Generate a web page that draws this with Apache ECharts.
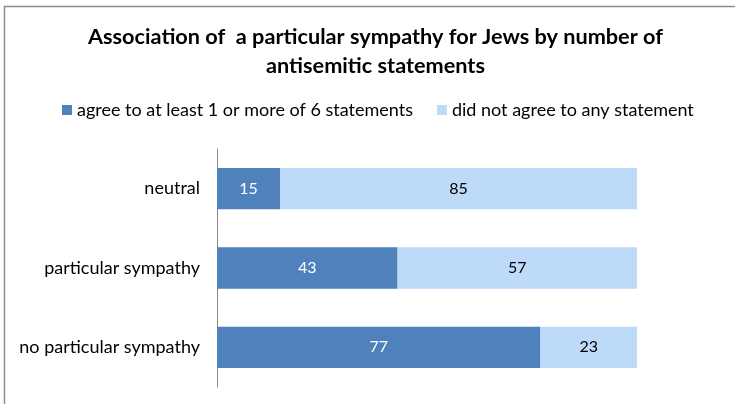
<!DOCTYPE html>
<html>
<head>
<meta charset="utf-8">
<script src="https://cdn.jsdelivr.net/npm/echarts@6/dist/echarts.min.js"></script>
<style>
  html, body { margin: 0; padding: 0; background: #fff; }
  #chart { width: 735px; height: 404px; }
</style>
</head>
<body>
<div id="chart"></div>
<script>
// Sympathy groups (top to bottom) and shares (%) by number of antisemitic statements agreed to
const categories = ['neutral', 'particular sympathy', 'no particular sympathy'];
const agreedValues = [15, 43, 77];
const notAgreedValues = [85, 57, 23];
const seriesNames = ['agree to at least 1 or more of 6 statements', 'did not agree to any statement'];

const FONT = 'Lato';
const chart = echarts.init(document.getElementById('chart'), null, { renderer: 'canvas' });

chart.setOption({
  backgroundColor: '#ffffff',
  animation: false,
  textStyle: { fontFamily: FONT },
  title: {
    text: 'Association of  a particular sympathy for Jews by number of\nantisemitic statements',
    left: 370.5,
    textAlign: 'center',
    top: 18,
    textStyle: { fontFamily: FONT, fontSize: 21.7, fontWeight: 'bold', color: '#000', lineHeight: 28.5 }
  },
  legend: {
    top: 96,
    left: 57,
    itemWidth: 10,
    itemHeight: 10,
    itemGap: 24,
    icon: 'rect',
    textStyle: { fontFamily: FONT, fontSize: 18, color: '#000' },
    data: seriesNames
  },
  grid: { left: 217, right: 98, top: 149, bottom: 17, containLabel: false },
  xAxis: {
    type: 'value', min: 0, max: 100, show: false
  },
  yAxis: {
    type: 'category',
    inverse: true,
    data: categories,
    axisLine: { show: true, lineStyle: { color: '#8c8c8c', width: 1 } },
    axisTick: { show: false },
    axisLabel: { fontFamily: FONT, fontSize: 18, color: '#000', margin: 17 }
  },
  series: [
    {
      name: seriesNames[0],
      type: 'bar',
      stack: 'total',
      barWidth: '52%',
      data: agreedValues,
      itemStyle: { color: '#4f81bd' },
      label: { show: true, position: 'inside', color: '#fff', fontFamily: FONT, fontSize: 16 }
    },
    {
      name: seriesNames[1],
      type: 'bar',
      stack: 'total',
      data: notAgreedValues,
      itemStyle: { color: '#bddbf9' },
      label: { show: true, position: 'inside', color: '#000', fontFamily: FONT, fontSize: 16 }
    }
  ],
  graphic: [
    {
      type: 'polyline',
      silent: true,
      shape: { points: [[4.5, 404], [4.5, 6.5], [735, 6.5]] },
      style: { stroke: '#8c8c8c', lineWidth: 1.5, fill: null }
    }
  ]
});
</script>
</body>
</html>
